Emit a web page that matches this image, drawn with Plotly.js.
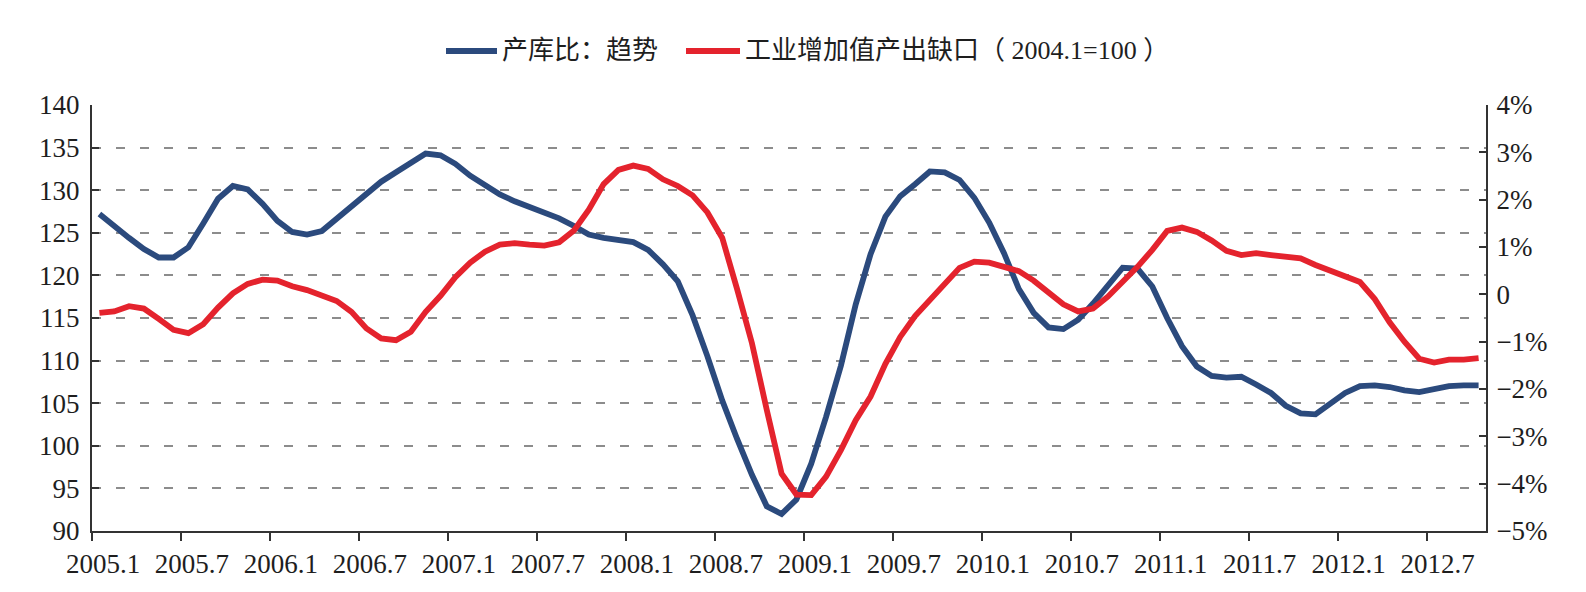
<!DOCTYPE html>
<html>
<head>
<meta charset="utf-8">
<script src="https://cdn.plot.ly/plotly-3.0.1.min.js"></script>
<style>html,body{margin:0;padding:0;background:#fff;}#chart{width:1586px;height:592px;}</style>
</head>
<body>
<div id="chart"></div>
<script>
// Monthly categories 2005.1 – 2012.10
const months = [];
for (let y = 2005; y <= 2012; y++) {
  for (let m = 1; m <= 12; m++) {
    if (y === 2012 && m > 10) break;
    months.push(y + '.' + m);
  }
}

// 产库比：趋势 (left axis)
const inventoryRatio = [
  127.2, 125.7, 124.4, 123.1, 122.1, 122.1, 123.3, 126.1, 129.0, 130.5,
  130.1, 128.4, 126.4, 125.1, 124.8, 125.2, 126.7, 128.2, 129.7, 131.0,
  132.1, 133.3, 134.3, 134.1, 133.1, 131.7, 130.5, 129.5, 128.7, 128.0,
  127.3, 126.7, 125.8, 124.8, 124.4, 124.1, 123.9, 123.0, 121.3, 119.3,
  115.3, 110.5, 105.3, 100.8, 96.6, 92.9, 92.0, 93.7, 97.9, 103.4,
  109.4, 116.6, 122.5, 126.9, 129.3, 130.7, 132.2, 132.1, 131.2, 129.1,
  126.2, 122.6, 118.4, 115.6, 113.9, 113.7, 114.8, 116.7, 118.9, 120.9,
  120.8, 118.7, 115.0, 111.7, 109.3, 108.2, 108.0, 108.1, 107.2, 106.2,
  104.7, 103.8, 103.7, 104.9, 106.2, 107.0, 107.1, 106.9, 106.5, 106.3,
  106.6, 107.0, 107.1, 107.1
];

// 工业增加值产出缺口 (right axis, %)
const outputGap = [
  -0.39, -0.36, -0.25, -0.30, -0.52, -0.75, -0.82, -0.63, -0.28, 0.02,
  0.22, 0.31, 0.29, 0.17, 0.09, -0.01, -0.14, -0.37, -0.72, -0.93,
  -0.97, -0.79, -0.37, -0.03, 0.36, 0.67, 0.90, 1.05, 1.08, 1.05,
  1.03, 1.10, 1.35, 1.79, 2.33, 2.63, 2.72, 2.65, 2.43, 2.29,
  2.09, 1.73, 1.19, 0.11, -1.03, -2.44, -3.79, -4.23, -4.24, -3.85,
  -3.29, -2.66, -2.16, -1.47, -0.90, -0.46, -0.12, 0.24, 0.56, 0.69,
  0.67, 0.58, 0.49, 0.29, 0.02, -0.21, -0.36, -0.30, -0.05, 0.26,
  0.58, 0.94, 1.34, 1.41, 1.32, 1.14, 0.92, 0.83, 0.87, 0.83,
  0.81, 0.76, 0.62, 0.51, 0.38, 0.26, -0.10, -0.59, -1.00, -1.36,
  -1.44, -1.38, -1.38, -1.35
];

const xTickLabels = ['2005.1','2005.7','2006.1','2006.7','2007.1','2007.7','2008.1','2008.7',
                     '2009.1','2009.7','2010.1','2010.7','2011.1','2011.7','2012.1','2012.7'];
const leftTicks = [90, 95, 100, 105, 110, 115, 120, 125, 130, 135, 140];
const rightTickVals = [-5, -4, -3, -2, -1, 0, 1, 2, 3, 4];
const rightTickText = ['\u22125%','\u22124%','\u22123%','\u22122%','\u22121%','0','1%','2%','3%','4%'];

const seriesNames = ['产库比：趋势', '工业增加值产出缺口（ 2004.1=100 ）'];
const BLUE = '#2b4a7d';
const RED = '#e4232d';

const idx = months.map((_, i) => i);
const tickPos = xTickLabels.map(l => months.indexOf(l) - 0.5);

const traces = [
  { x: idx, y: inventoryRatio, text: months, type: 'scatter', mode: 'lines', name: seriesNames[0],
    line: { color: BLUE, width: 5.8 }, yaxis: 'y', hovertemplate: '%{text}: %{y}<extra></extra>' },
  { x: idx, y: outputGap, text: months, type: 'scatter', mode: 'lines', name: seriesNames[1],
    line: { color: RED, width: 5.8 }, yaxis: 'y2', hovertemplate: '%{text}: %{y}%<extra></extra>' }
];

const tickFont = { family: 'Liberation Serif, Times New Roman, serif', size: 27, color: '#1e1e1e' };
const legendFont = { family: 'Liberation Serif, Noto Sans CJK SC, sans-serif', size: 26, color: '#1e1e1e' };

const L = 92, R = 100, T = 105, B = 61, W = 1586, H = 592;
const pw = W - L - R, ph = H - T - B;
const px = v => (v - L) / pw;
const py = v => (H - B - v) / ph;

const layout = {
  width: W, height: H,
  margin: { l: L, r: R, t: T, b: B, pad: 0 },
  paper_bgcolor: '#ffffff', plot_bgcolor: '#ffffff',
  showlegend: false,
  xaxis: {
    range: [-0.5, months.length - 0.5],
    tickmode: 'array', tickvals: tickPos, ticktext: xTickLabels,
    ticklabelshift: 11,
    ticks: 'outside', ticklen: 8, tickwidth: 2, tickcolor: '#333',
    showline: true, linecolor: '#333', linewidth: 2,
    showgrid: false, zeroline: false,
    tickfont: tickFont, fixedrange: true
  },
  yaxis: {
    range: [90, 140], tickmode: 'array', tickvals: leftTicks,
    ticks: 'inside', ticklen: 7, tickwidth: 2, tickcolor: '#333',
    showline: true, linecolor: '#333', linewidth: 2,
    showgrid: true, gridcolor: '#8c8c8c', gridwidth: 2, griddash: '9px,15px',
    zeroline: false, tickfont: tickFont, ticklabelstandoff: 5, fixedrange: true
  },
  yaxis2: {
    overlaying: 'y', side: 'right', anchor: 'x',
    range: [-5, 4], tickmode: 'array', tickvals: rightTickVals, ticktext: rightTickText,
    ticks: 'inside', ticklen: 7, tickwidth: 2, tickcolor: '#333',
    showline: true, linecolor: '#333', linewidth: 2,
    showgrid: false, zeroline: false, tickfont: tickFont, ticklabelstandoff: 3, fixedrange: true
  },
  shapes: [
    { type: 'line', xref: 'paper', yref: 'paper', x0: px(446), x1: px(497), y0: py(51), y1: py(51),
      line: { color: BLUE, width: 5.8 } },
    { type: 'line', xref: 'paper', yref: 'paper', x0: px(686), x1: px(740), y0: py(51), y1: py(51),
      line: { color: RED, width: 5.8 } }
  ],
  annotations: [
    { xref: 'paper', yref: 'paper', x: px(500), y: py(51), xanchor: 'left', yanchor: 'middle',
      text: seriesNames[0], showarrow: false, font: legendFont },
    { xref: 'paper', yref: 'paper', x: px(743), y: py(51), xanchor: 'left', yanchor: 'middle',
      text: seriesNames[1], showarrow: false, font: legendFont }
  ]
};

Plotly.newPlot('chart', traces, layout, { displayModeBar: false, staticPlot: true });
</script>
</body>
</html>
